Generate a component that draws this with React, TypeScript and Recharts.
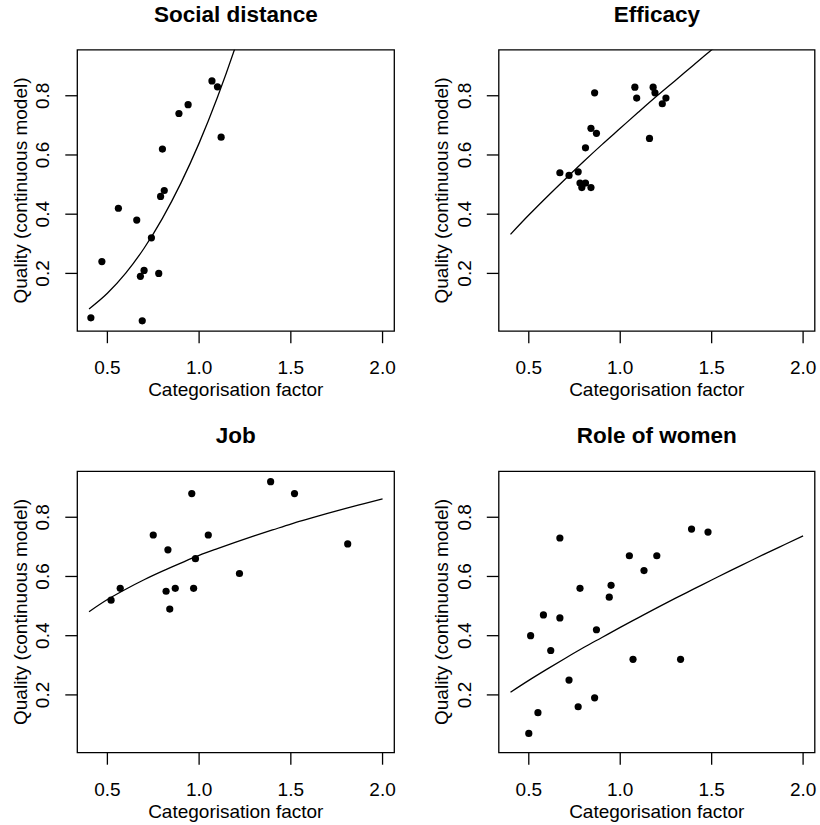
import React from 'react';
import { ComposedChart, XAxis, YAxis, Scatter, Line, ReferenceArea } from 'recharts';

const FONT = '"Liberation Sans", Arial, Helvetica, sans-serif';
const LW = 1.3;

// axis ticks shared by all four panels
const xTicks = [0.5, 1.0, 1.5, 2.0];
const yTicks = [0.2, 0.4, 0.6, 0.8];
const xDomain = [0.336, 2.064];
const yDomain = [0.0048, 0.9552];

// Social distance
const socialPoints = [
  { x: 0.41, y: 0.05 }, { x: 0.47, y: 0.24 }, { x: 0.56, y: 0.42 }, { x: 0.66, y: 0.38 },
  { x: 0.68, y: 0.19 }, { x: 0.7, y: 0.21 }, { x: 0.69, y: 0.04 }, { x: 0.74, y: 0.32 },
  { x: 0.78, y: 0.2 }, { x: 0.79, y: 0.46 }, { x: 0.81, y: 0.48 }, { x: 0.8, y: 0.62 },
  { x: 0.89, y: 0.74 }, { x: 0.94, y: 0.77 }, { x: 1.07, y: 0.85 }, { x: 1.1, y: 0.83 },
  { x: 1.12, y: 0.66 },
];
const socialCurve = [
  { x: 0.4, y: 0.08 }, { x: 0.5, y: 0.133 }, { x: 0.6, y: 0.201 }, { x: 0.7, y: 0.285 },
  { x: 0.8, y: 0.386 }, { x: 0.9, y: 0.504 }, { x: 1.0, y: 0.64 }, { x: 1.1, y: 0.795 },
  { x: 1.2, y: 0.969 }, { x: 1.3, y: 1.162 },
];

// Efficacy
const efficacyPoints = [
  { x: 0.67, y: 0.54 }, { x: 0.72, y: 0.531 }, { x: 0.77, y: 0.543 }, { x: 0.78, y: 0.505 },
  { x: 0.79, y: 0.49 }, { x: 0.81, y: 0.505 }, { x: 0.84, y: 0.49 }, { x: 0.81, y: 0.624 },
  { x: 0.84, y: 0.69 }, { x: 0.87, y: 0.673 }, { x: 0.86, y: 0.81 }, { x: 1.08, y: 0.829 },
  { x: 1.09, y: 0.792 }, { x: 1.16, y: 0.656 }, { x: 1.18, y: 0.829 }, { x: 1.19, y: 0.81 },
  { x: 1.23, y: 0.773 }, { x: 1.25, y: 0.792 },
];
const efficacyCurve = [
  { x: 0.4, y: 0.332 }, { x: 0.5, y: 0.397 }, { x: 0.6, y: 0.459 }, { x: 0.7, y: 0.519 },
  { x: 0.8, y: 0.578 }, { x: 0.9, y: 0.635 }, { x: 1.0, y: 0.69 }, { x: 1.1, y: 0.745 },
  { x: 1.2, y: 0.799 }, { x: 1.3, y: 0.851 }, { x: 1.4, y: 0.903 }, { x: 1.5, y: 0.955 },
  { x: 1.6, y: 1.005 },
];

// Job
const jobPoints = [
  { x: 0.52, y: 0.52 }, { x: 0.57, y: 0.56 }, { x: 0.75, y: 0.74 }, { x: 0.82, y: 0.55 },
  { x: 0.83, y: 0.69 }, { x: 0.84, y: 0.49 }, { x: 0.87, y: 0.56 }, { x: 0.96, y: 0.88 },
  { x: 0.97, y: 0.56 }, { x: 0.98, y: 0.66 }, { x: 1.05, y: 0.74 }, { x: 1.22, y: 0.61 },
  { x: 1.39, y: 0.92 }, { x: 1.52, y: 0.88 }, { x: 1.81, y: 0.71 },
];
const jobCurve = [
  { x: 0.4, y: 0.481 }, { x: 0.5, y: 0.522 }, { x: 0.6, y: 0.557 }, { x: 0.7, y: 0.589 },
  { x: 0.8, y: 0.618 }, { x: 0.9, y: 0.645 }, { x: 1.0, y: 0.671 }, { x: 1.1, y: 0.694 },
  { x: 1.2, y: 0.716 }, { x: 1.3, y: 0.737 }, { x: 1.4, y: 0.757 }, { x: 1.5, y: 0.777 },
  { x: 1.6, y: 0.795 }, { x: 1.7, y: 0.813 }, { x: 1.8, y: 0.83 }, { x: 1.9, y: 0.846 },
  { x: 2.0, y: 0.862 },
];

// Role of women
const womenPoints = [
  { x: 0.5, y: 0.07 }, { x: 0.55, y: 0.14 }, { x: 0.51, y: 0.4 }, { x: 0.58, y: 0.47 },
  { x: 0.62, y: 0.35 }, { x: 0.67, y: 0.46 }, { x: 0.67, y: 0.73 }, { x: 0.72, y: 0.25 },
  { x: 0.77, y: 0.16 }, { x: 0.78, y: 0.56 }, { x: 0.86, y: 0.19 }, { x: 0.87, y: 0.42 },
  { x: 0.94, y: 0.53 }, { x: 0.95, y: 0.57 }, { x: 1.05, y: 0.67 }, { x: 1.07, y: 0.32 },
  { x: 1.13, y: 0.62 }, { x: 1.2, y: 0.67 }, { x: 1.33, y: 0.32 }, { x: 1.39, y: 0.76 },
  { x: 1.48, y: 0.75 },
];
const womenCurve = [
  { x: 0.4, y: 0.209 }, { x: 0.5, y: 0.249 }, { x: 0.6, y: 0.287 }, { x: 0.7, y: 0.324 },
  { x: 0.8, y: 0.36 }, { x: 0.9, y: 0.394 }, { x: 1.0, y: 0.428 }, { x: 1.1, y: 0.461 },
  { x: 1.2, y: 0.494 }, { x: 1.3, y: 0.526 }, { x: 1.4, y: 0.557 }, { x: 1.5, y: 0.588 },
  { x: 1.6, y: 0.619 }, { x: 1.7, y: 0.649 }, { x: 1.8, y: 0.679 }, { x: 1.9, y: 0.708 },
  { x: 2.0, y: 0.737 },
];

const PLOT_H = 281.4;

const panels = [
  { title: 'Social distance', left: 0, top: 0, w: 410, h: 412, plotLeft: 77.3, plotTop: 49.8, plotW: 317, points: socialPoints, curve: socialCurve },
  { title: 'Efficacy', left: 410, top: 0, w: 410, h: 412, plotLeft: 88.8, plotTop: 49.8, plotW: 316, points: efficacyPoints, curve: efficacyCurve },
  { title: 'Job', left: 0, top: 410, w: 410, h: 415, plotLeft: 77.3, plotTop: 61.3, plotW: 317, points: jobPoints, curve: jobCurve },
  { title: 'Role of women', left: 410, top: 410, w: 410, h: 415, plotLeft: 88.8, plotTop: 61.3, plotW: 316, points: womenPoints, curve: womenCurve },
];

const XTick = (props: any) => {
  const { x, y, payload } = props;
  return (
    <text x={x} y={y + 31} textAnchor="middle" fontSize={19} fontFamily={FONT} fill="#000">
      {Number(payload.value).toFixed(1)}
    </text>
  );
};

const YTick = (props: any) => {
  const { x, y, payload } = props;
  const bx = x - 16;
  return (
    <text x={bx} y={y} transform={`rotate(-90, ${bx}, ${y})`} textAnchor="middle" fontSize={19} fontFamily={FONT} fill="#000">
      {Number(payload.value).toFixed(1)}
    </text>
  );
};

const Dot = (props: any) => <circle cx={props.cx} cy={props.cy} r={3.6} fill="#000" />;

function Panel({ p }: any) {
  const axisH = p.h - p.plotTop - PLOT_H;
  const xLabel = () => (
    <text x={p.plotLeft + p.plotW / 2} y={p.plotTop + PLOT_H + 65} textAnchor="middle" fontSize={19} fontFamily={FONT} fill="#000">
      Categorisation factor
    </text>
  );
  const lx = p.plotLeft - 50.5;
  const ly = p.plotTop + PLOT_H / 2;
  const yLabel = () => (
    <text x={lx} y={ly} transform={`rotate(-90, ${lx}, ${ly})`} textAnchor="middle" fontSize={19} fontFamily={FONT} fill="#000">
      Quality (continuous model)
    </text>
  );
  return (
    <div style={{ position: 'absolute', left: p.left, top: p.top, width: p.w, height: p.h }}>
      <div
        style={{
          position: 'absolute', left: p.plotLeft, width: p.plotW, top: p.plotTop - 27.3 - 19,
          textAlign: 'center', fontFamily: FONT, fontWeight: 'bold', fontSize: 22.5, lineHeight: '22.5px', color: '#000',
        }}
      >
        {p.title}
      </div>
      <ComposedChart width={p.w} height={p.h} margin={{ top: p.plotTop, right: p.w - p.plotLeft - p.plotW, left: 0, bottom: 0 }}>
        <XAxis
          type="number" dataKey="x" domain={xDomain} ticks={xTicks} allowDataOverflow
          height={axisH} tickSize={12} tickMargin={0} tick={<XTick />}
          tickLine={{ stroke: '#000', strokeWidth: LW }} axisLine={false} label={xLabel}
        />
        <YAxis
          type="number" dataKey="y" domain={yDomain} ticks={yTicks} allowDataOverflow
          width={p.plotLeft} tickSize={12} tickMargin={0} tick={<YTick />}
          tickLine={{ stroke: '#000', strokeWidth: LW }} axisLine={false} label={yLabel}
        />
        <ReferenceArea x1={xDomain[0]} x2={xDomain[1]} y1={yDomain[0]} y2={yDomain[1]} fill="none" stroke="#000" strokeWidth={LW} ifOverflow="visible" />
        <Line data={p.curve} dataKey="y" type="monotone" stroke="#000" strokeWidth={LW} dot={false} activeDot={false} isAnimationActive={false} />
        <Scatter data={p.points} dataKey="y" fill="#000" shape={<Dot />} isAnimationActive={false} />
      </ComposedChart>
    </div>
  );
}

export default function App() {
  return (
    <div style={{ position: 'absolute', left: 0, top: 0, width: 820, height: 825, background: '#fff' }}>
      {panels.map((p) => (
        <Panel key={p.title} p={p} />
      ))}
    </div>
  );
}
